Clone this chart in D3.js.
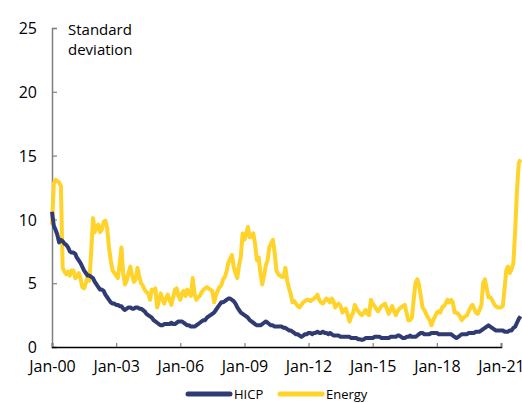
<!DOCTYPE html>
<html>
<head>
<meta charset="utf-8">
<script src="https://cdn.jsdelivr.net/npm/d3@7"></script>
<style>
  body { margin: 0; background: #fff; }
  svg { display: block; font-family: "Open Sans", sans-serif; }
</style>
</head>
<body>
<div id="chart"></div>
<script>
// monthly observations, Jan 2000 onwards
const startMonth = new Date(2000, 0, 1);

const hicp = [
  10.6, 9.5, 9.2, 8.8, 8.2, 8.4, 8.3, 8.1, 8.0, 7.8, 7.5, 7.4,
  7.4, 7.3, 7.0, 6.8, 6.6, 6.3, 6.0, 5.8, 5.6, 5.6, 5.5, 5.4,
  5.1, 4.9, 4.7, 4.5, 4.5, 4.4, 4.1, 3.9, 3.7, 3.5, 3.4, 3.4,
  3.3, 3.3, 3.2, 3.2, 3.0, 2.9, 3.0, 3.1, 3.1, 3.0, 3.0, 3.1,
  3.1, 3.0, 3.0, 2.9, 2.8, 2.6, 2.5, 2.4, 2.3, 2.1, 2.0, 1.9,
  1.8, 1.7, 1.7, 1.8, 1.8, 1.8, 1.8, 1.9, 1.8, 1.8, 1.9, 2.0,
  2.0, 2.0, 1.9, 1.8, 1.7, 1.7, 1.6, 1.6, 1.6, 1.7, 1.8, 1.9,
  2.0, 2.1, 2.1, 2.3, 2.4, 2.5, 2.6, 2.7, 2.9, 3.1, 3.3, 3.5,
  3.5, 3.6, 3.7, 3.8, 3.8, 3.7, 3.6, 3.4, 3.1, 2.9, 2.7, 2.6,
  2.5, 2.4, 2.3, 2.1, 2.0, 1.9, 1.8, 1.7, 1.7, 1.7, 1.8, 1.9,
  2.0, 1.9, 1.8, 1.7, 1.7, 1.6, 1.6, 1.6, 1.6, 1.6, 1.5, 1.5,
  1.4, 1.3, 1.3, 1.2, 1.1, 1.0, 1.0, 0.9, 0.8, 0.9, 1.0, 1.0,
  1.1, 1.1, 1.0, 1.1, 1.1, 1.2, 1.1, 1.1, 1.2, 1.1, 1.1, 1.0,
  1.1, 1.0, 0.9, 0.9, 0.9, 0.9, 0.8, 0.8, 0.8, 0.8, 0.8, 0.8,
  0.7, 0.7, 0.7, 0.7, 0.6, 0.6, 0.55, 0.6, 0.7, 0.7, 0.7, 0.7,
  0.7, 0.8, 0.8, 0.8, 0.8, 0.7, 0.7, 0.7, 0.7, 0.7, 0.8, 0.8,
  0.8, 0.8, 0.9, 0.9, 0.8, 0.7, 0.7, 0.8, 0.8, 0.9, 0.8, 0.8,
  0.8, 0.9, 1.0, 1.1, 1.1, 1.0, 1.0, 1.0, 1.0, 1.1, 1.1, 1.1,
  1.1, 1.0, 1.0, 1.0, 1.0, 1.0, 1.0, 1.0, 1.0, 0.9, 0.8, 0.7,
  0.8, 0.9, 1.0, 1.0, 1.0, 1.0, 1.1, 1.1, 1.1, 1.1, 1.2, 1.2,
  1.2, 1.3, 1.4, 1.5, 1.6, 1.7, 1.6, 1.5, 1.4, 1.3, 1.3, 1.3,
  1.3, 1.3, 1.2, 1.2, 1.2, 1.3, 1.3, 1.5, 1.6, 1.9, 2.2, 2.4
];

const energy = [
  9.6, 12.8, 13.1, 13.0, 12.9, 12.6, 6.2, 5.9, 5.7, 5.9, 5.6, 6.0,
  6.0, 5.4, 5.5, 5.8, 5.4, 4.7, 4.6, 5.0, 5.6, 5.2, 7.5, 10.1,
  9.0, 9.4, 9.6, 9.0, 9.2, 9.8, 9.9, 9.3, 7.8, 6.8, 6.0, 5.8,
  5.6, 5.4, 6.5, 7.8, 5.8, 4.9, 5.2, 5.8, 6.3, 5.6, 5.1, 5.3,
  6.2, 5.5, 5.0, 4.8, 4.5, 4.3, 4.2, 3.7, 4.5, 4.4, 4.6, 3.1,
  3.6, 4.2, 3.8, 3.4, 3.8, 4.1, 3.7, 3.3, 3.9, 4.5, 4.6, 4.0,
  3.7, 4.2, 4.4, 4.0, 4.5, 4.2, 4.0, 5.4, 4.2, 3.7, 3.9, 4.0,
  4.3, 4.5, 4.6, 4.7, 4.6, 4.5, 4.4, 3.5, 4.0, 4.4, 4.7, 4.8,
  5.3, 5.5, 5.9, 6.6, 6.9, 7.2, 6.3, 5.8, 5.4, 6.4, 7.1, 8.9,
  8.4, 8.9, 9.4, 8.6, 8.7, 8.9, 8.1, 6.8, 7.0, 5.8, 4.9, 5.6,
  6.4, 6.8, 7.8, 8.1, 8.4, 7.4, 6.0, 5.7, 5.6, 5.5, 5.5, 6.2,
  5.2, 4.6, 4.2, 3.5, 3.6, 3.4, 3.2, 3.1, 3.3, 3.5, 3.6, 3.7,
  3.7, 3.6, 3.7, 3.8, 3.9, 4.1, 3.7, 3.5, 3.4, 3.6, 3.8, 3.7,
  3.5, 3.8, 3.6, 3.1, 3.3, 3.4, 3.2, 2.7, 2.9, 3.0, 2.5, 2.0,
  2.4, 2.7, 3.3, 3.0, 2.8, 2.6, 2.5, 2.7, 2.9, 2.6, 2.5, 3.7,
  3.4, 3.2, 3.0, 2.8, 3.0, 3.2, 3.3, 3.4, 3.0, 2.6, 2.9, 3.2,
  2.8, 2.5, 2.8, 3.0, 3.1, 3.2, 3.3, 2.7, 2.1, 2.1, 2.3, 3.7,
  5.0, 5.3, 4.9, 4.0, 3.1, 2.9, 2.6, 2.3, 2.1, 1.7, 2.1, 2.4,
  2.7, 2.8, 2.7, 3.1, 3.2, 3.4, 3.7, 3.5, 3.7, 3.5, 2.7, 2.7,
  2.6, 2.4, 2.1, 2.3, 2.4, 2.5, 2.8, 3.1, 3.3, 3.0, 2.7, 2.6,
  2.9, 3.3, 5.0, 5.3, 4.6, 3.9, 3.9, 3.7, 3.4, 3.2, 3.1, 3.1,
  3.1, 3.2, 4.5, 6.0, 6.3, 5.8, 6.1, 6.6, 9.2, 12.3, 14.4, 14.7
];

const seriesNames = ["HICP", "Energy"];
const seriesColors = ["#303b74", "#ffd32a"];
const yTicks = [0, 5, 10, 15, 20, 25];
const xTickYears = [2000, 2003, 2006, 2009, 2012, 2015, 2018, 2021];
const yLabel = ["Standard", "deviation"];

const width = 522, height = 403;
const svg = d3.select("#chart").append("svg")
  .attr("width", width)
  .attr("height", height);

const x = d3.scaleTime()
  .domain([new Date(2000, 0, 1), new Date(2021, 0, 1)])
  .range([52, 501]);
const y = d3.scaleLinear().domain([0, 25]).range([347, 28]);

const dates = hicp.map((d, i) => d3.timeMonth.offset(startMonth, i));

// y axis, ticks point inwards
const yAxis = svg.append("g")
  .attr("transform", "translate(52,0)")
  .call(d3.axisRight(y).tickValues(yTicks).tickSize(5).tickFormat(d3.format("d")));
yAxis.select(".domain").attr("stroke", "#7f7f7f").attr("stroke-width", 1.5);
yAxis.selectAll(".tick line").attr("stroke", "#7f7f7f").attr("stroke-width", 1.2);
yAxis.selectAll(".tick text")
  .attr("x", -15)
  .attr("text-anchor", "end")
  .attr("dy", "0.36em")
  .style("font-family", "Open Sans")
  .style("font-size", "16px")
  .attr("fill", "#000");

// y axis title
svg.append("text")
  .attr("x", 68)
  .attr("y", 35)
  .style("font-size", "15px")
  .selectAll("tspan")
  .data(yLabel)
  .join("tspan")
  .attr("x", 68)
  .attr("dy", (d, i) => i ? 20 : 0)
  .text(d => d);

// lines
const line = d3.line()
  .x((d, i) => x(dates[i]))
  .y(d => y(d));

svg.append("path")
  .datum(energy)
  .attr("fill", "none")
  .attr("stroke", seriesColors[1])
  .attr("stroke-width", 4)
  .attr("stroke-linejoin", "round")
  .attr("d", line);

svg.append("path")
  .datum(hicp)
  .attr("fill", "none")
  .attr("stroke", seriesColors[0])
  .attr("stroke-width", 4)
  .attr("stroke-linejoin", "round")
  .attr("d", line);

// x axis, ticks point up
const xAxis = svg.append("g")
  .attr("transform", "translate(0,347)")
  .call(d3.axisTop(x)
    .tickValues(xTickYears.map(yr => new Date(yr, 0, 1)))
    .tickSize(4)
    .tickFormat(d3.timeFormat("Jan-%y")));
xAxis.select(".domain").attr("stroke", "#000").attr("stroke-width", 1.5);
xAxis.selectAll(".tick line").attr("stroke", "#7f7f7f").attr("stroke-width", 1.2);
xAxis.selectAll(".tick text")
  .attr("y", 25)
  .attr("dy", 0)
  .style("font-family", "Open Sans")
  .style("font-size", "16px")
  .attr("fill", "#000");

// legend
const legendX = [188, 280];
const legend = svg.append("g");
seriesNames.forEach((name, i) => {
  legend.append("line")
    .attr("x1", legendX[i]).attr("x2", legendX[i] + 42)
    .attr("y1", 394).attr("y2", 394)
    .attr("stroke", seriesColors[i])
    .attr("stroke-width", 5)
    .attr("stroke-linecap", "round");
  legend.append("text")
    .attr("x", legendX[i] + 46)
    .attr("y", 399)
    .style("font-size", "13px")
    .text(name);
});
</script>
</body>
</html>
